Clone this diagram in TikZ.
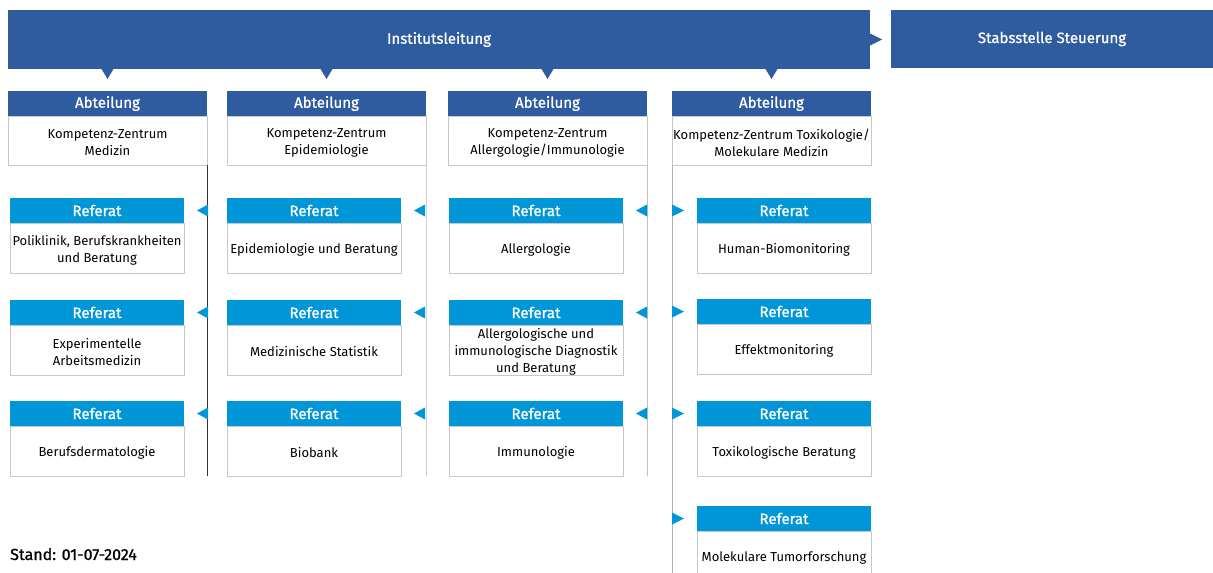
\documentclass[tikz,border=0pt]{standalone}
\usepackage{fontspec}
\setmainfont{Fira Sans}
\newfontfamily\medfont{Fira Sans}[FakeBold=1.0]
\usetikzlibrary{calc}
\definecolor{dkblue}{HTML}{2F5B9F}
\definecolor{ltblue}{HTML}{0096D8}
\definecolor{bordergray}{HTML}{C8C8C8}
\begin{document}
\begin{tikzpicture}[x=1pt,y=-1pt,
  box/.style={anchor=north west, inner sep=0pt, outer sep=0pt, align=center},
  lead/.style={box, fill=dkblue, text=white, font=\fontsize{15}{17}\medfont},
  abthead/.style={box, fill=dkblue, text=white, minimum width=199pt, minimum height=25pt, font=\fontsize{15}{17}\medfont},
  abtbody/.style={box, draw=bordergray, fill=white, minimum width=199pt, minimum height=49pt},
  refhead/.style={box, fill=ltblue, text=white, minimum width=174pt, minimum height=25pt, font=\fontsize{15}{17}\medfont},
  refbody/.style={box, draw=bordergray, fill=white, minimum width=174pt, minimum height=50pt},
  bodytext/.style={inner sep=0pt, align=center, font=\fontsize{13}{17}\selectfont},
  vline/.style={line width=1pt},
  tri/.style={fill=ltblue},
  dtri/.style={fill=dkblue}
]
\useasboundingbox (0,0) rectangle (1213,573);

% top
\node[lead, minimum width=862pt, minimum height=59pt] (lead) at (8,10) {Institutsleitung};
\node[lead, minimum width=322pt, minimum height=58pt] (stab) at (891,10) {Stabsstelle Steuerung};
\fill[dtri] ($(lead.east)+(0,-6)$) -- ($(lead.east)+(12,0)$) -- ($(lead.east)+(0,6)$) -- cycle;

% Abteilungen
\node[abthead] (a1h) at (8,91) {Abteilung};
\node[abtbody] (a1b) at (8,116) {};
\node[bodytext] (a1t) at ($(a1b.center)+(0,2)$) {Kompetenz-Zentrum\\Medizin};
\node[abthead] (a2h) at (227,91) {Abteilung};
\node[abtbody] (a2b) at (227,116) {};
\node[bodytext] (a2t) at ($(a2b.center)+(0,2)$) {Kompetenz-Zentrum\\Epidemiologie};
\node[abthead] (a3h) at (448,91) {Abteilung};
\node[abtbody] (a3b) at (448,116) {};
\node[bodytext] (a3t) at ($(a3b.center)+(0,2)$) {Kompetenz-Zentrum\\Allergologie/Immunologie};
\node[abthead] (a4h) at (672,91) {Abteilung};
\node[abtbody] (a4b) at (672,116) {};
\node[bodytext] (a4t) at ($(a4b.center)+(0,2)$) {Kompetenz-Zentrum Toxikologie/\\Molekulare Medizin};

\foreach \n in {a1h,a2h,a3h,a4h}{
  \fill[dtri] ($(\n.north)+(-6,-22)$) -- ($(\n.north)+(6,-22)$) -- ($(\n.north)+(0,-12)$) -- cycle;
}

% vertical lines
\coordinate (e1) at (207,476);
\coordinate (e2) at (426,476);
\coordinate (e3) at (647,476);
\coordinate (e4) at (672,573);
\draw[vline, draw=black!80] (a1b.south east) -- (e1);
\draw[vline, draw=black!18] (a2b.south east) -- (e2);
\draw[vline, draw=black!25] (a3b.south east) -- (e3);
\draw[vline, draw=black!30] (a4b.south west) -- (e4);

% Referate: name, x, y, text
\foreach \n/\x/\y/\t in {
  r11/10/198/{Poliklinik, Berufskrankheiten\\und Beratung},
  r12/10/300/{Experimentelle\\Arbeitsmedizin},
  r13/10/401/{Berufsdermatologie},
  r21/227/198/{Epidemiologie und Beratung},
  r22/227/300/{Medizinische Statistik},
  r23/227/401/{Biobank},
  r31/449/198/{Allergologie},
  r32/449/300/{Allergologische und\\immunologische Diagnostik\\und Beratung},
  r33/449/401/{Immunologie},
  r41/697/198/{Human-Biomonitoring},
  r42/697/299/{Effektmonitoring},
  r43/697/401/{Toxikologische Beratung},
  r44/697/506/{Molekulare Tumorforschung}}{
  \node[refhead] (\n h) at (\x,\y) {Referat};
  \node[refbody] (\n b) at (\x,\y+25) {};
  \node[bodytext] (\n t) at ($(\n b.center)+(0,2)$) {\t};
}

% triangles pointing to the Referate
\foreach \n in {r11h,r12h,r13h,r21h,r22h,r23h,r31h,r32h,r33h}{
  \fill[tri] ($(\n.east)+(13,0)$) -- ($(\n.east)+(24,-6)$) -- ($(\n.east)+(24,6)$) -- cycle;
}
\foreach \n in {r41h,r42h,r43h,r44h}{
  \fill[tri] ($(\n.west)+(-13,0)$) -- ($(\n.west)+(-25,-6)$) -- ($(\n.west)+(-25,6)$) -- cycle;
}

\node[anchor=base west, inner sep=0pt, font=\fontsize{16}{17}\medfont] (stand) at (10,560) {Stand: 01-07-2024};
\end{tikzpicture}
\end{document}
